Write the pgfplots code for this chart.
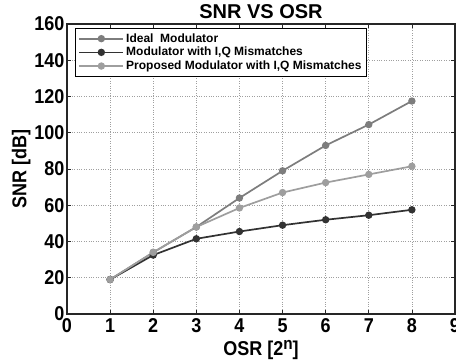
\documentclass[border=0pt]{standalone}
\usepackage{pgfplots}
\pgfplotsset{compat=1.18}
\usepackage{fontspec}
\setmainfont{Liberation Sans}
\newfontfamily\cf{Liberation Sans}[FakeStretch=0.9]
\definecolor{cideal}{RGB}{125,125,125}
\definecolor{cmis}{RGB}{50,50,50}
\definecolor{cprop}{RGB}{158,158,158}
\begin{document}
\begin{tikzpicture}
\begin{axis}[
  scale only axis, width=388pt, height=290pt,
  xmin=0, xmax=9, ymin=0, ymax=160,
  xtick={0,...,9}, ytick={0,20,...,160},
  /pgf/number format/assume math mode=true,
  tick label style={font=\cf\fontsize{20}{20}\selectfont\bfseries},
  xticklabel style={yshift=-1pt},
  yticklabel style={xshift=1pt},
  grid=major, major grid style={dotted, gray!75, line width=0.6pt},
  tick align=inside, major tick length=4pt,
  axis line style={line width=1.3pt, black!85},
  tick style={black!85, line width=0.6pt},
  title={\fontsize{20}{20}\selectfont\bfseries SNR VS OSR},
  title style={at={(0.5,1)}, anchor=south, yshift=-4pt},
  xlabel={\cf\fontsize{20}{20}\selectfont\bfseries OSR [2\raisebox{0.5ex}{\fontsize{17}{17}\selectfont n}]},
  ylabel={\cf\fontsize{20}{20}\selectfont\bfseries SNR [dB]},
  xlabel style={yshift=-1pt},
  ylabel style={yshift=-3pt},
  legend style={at={(0.0206,0.986)}, anchor=north west, font=\fontsize{12}{13.5}\selectfont\bfseries, draw=black, line width=1pt, inner xsep=3pt, inner ysep=3pt, row sep=-0.5pt},
  legend cell align=left,
  legend image code/.code={\draw[mark repeat=2,mark phase=2,#1] plot coordinates {(0pt,0pt) (22pt,0pt) (44pt,0pt)};},
  every axis plot/.append style={line width=1.7pt, mark=*, mark size=2.8pt},
]
\addplot[color=cideal] coordinates {(1,19) (2,34) (3,48) (4,64) (5,79) (6,93) (7,104.5) (8,117.5)};
\addlegendentry{Ideal\ \ Modulator}
\addplot[color=cmis] coordinates {(1,19) (2,32.5) (3,41.5) (4,45.5) (5,49) (6,52) (7,54.5) (8,57.5)};
\addlegendentry{Modulator with I,Q Mismatches}
\addplot[color=cprop] coordinates {(1,19) (2,34) (3,48) (4,58.5) (5,67) (6,72.5) (7,77) (8,81.5)};
\addlegendentry{Proposed Modulator with I,Q Mismatches}
\end{axis}
\pgfresetboundingbox
\path[use as bounding box] (-67pt,-47pt) rectangle (389pt,314pt);
\end{tikzpicture}
\end{document}
